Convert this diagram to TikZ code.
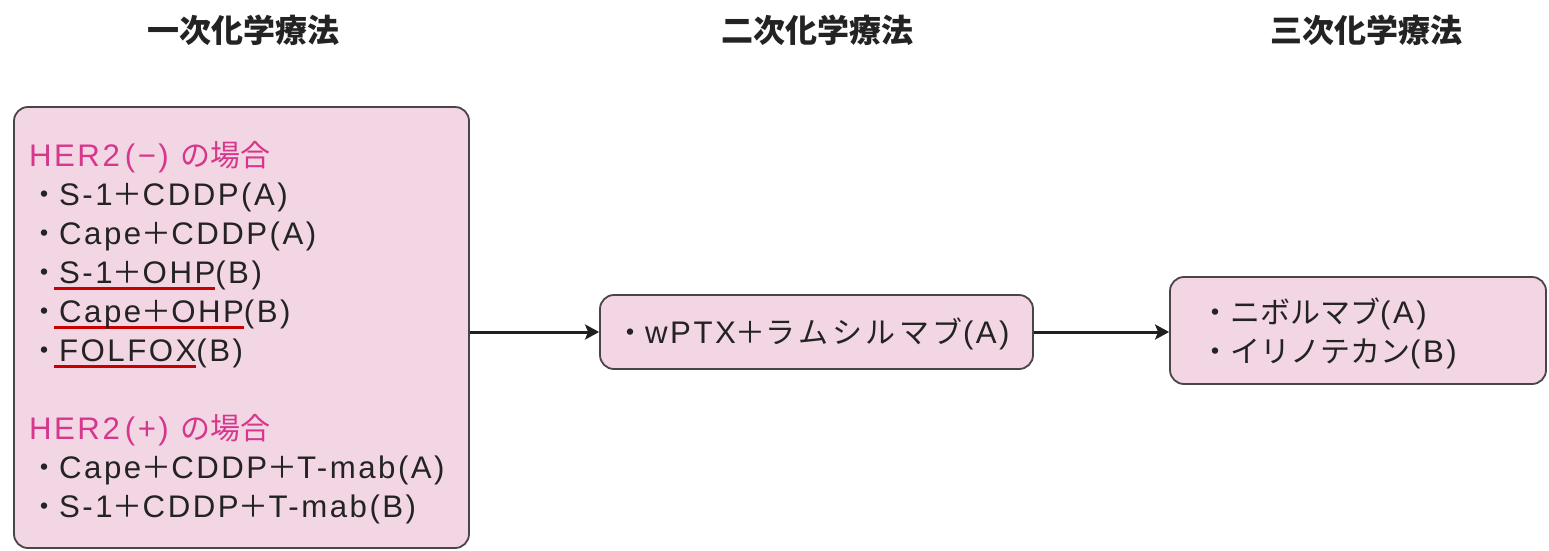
\documentclass[tikz,border=0pt]{standalone}
\usepackage{fontspec}
\setmainfont{Noto Sans CJK JP}
\newfontfamily\latfont[LetterSpace=8,Scale=1.04]{Liberation Sans}
\usetikzlibrary{arrows.meta}
\definecolor{boxpink}{RGB}{242,214,228}
\definecolor{boxline}{RGB}{75,68,72}
\definecolor{hermag}{RGB}{214,55,140}
\definecolor{ulred}{RGB}{200,0,0}
\definecolor{txt}{RGB}{35,35,35}
\newcommand\lt[1]{{\latfont #1}}
\newcommand\widekana[1]{{\addfontfeature{LetterSpace=12}#1}}
\newcommand\redul[1]{\setbox0\hbox{#1}\rlap{\kern-5pt\textcolor{ulred}{\rule[-7pt]{\dimexpr\wd0+5pt\relax}{3.5pt}}}\box0}
\begin{document}
\begin{tikzpicture}[x=1pt,y=-1pt,
  box/.style={draw=boxline,line width=1.8pt,fill=boxpink,rounded corners=14pt,inner sep=0pt},
  title/.style={font=\fontsize{32}{36}\selectfont\bfseries,text=txt,inner sep=0pt},
  item/.style={font=\fontsize{30}{39}\selectfont,text=txt,anchor=base west,inner sep=0pt},
  head/.style={item,text=hermag},
  arr/.style={line width=3pt,draw=black!88,-{Stealth[length=14pt,width=15pt,inset=3pt]}}]
\useasboundingbox (0,0) rectangle (1549,550);
\node[title] (t1) at (243,30) {一次化学療法};
\node[title] (t2) at (817,30) {二次化学療法};
\node[title] (t3) at (1366,30) {三次化学療法};
\node[box,minimum width=455pt,minimum height=441pt] (b1) at (241.5,327.5) {};
\node[box,minimum width=433pt,minimum height=74pt] (b2) at (816.5,332) {};
\node[box,minimum width=376pt,minimum height=107pt] (b3) at (1358,330.5) {};
\node[head] (h1) at (29,166) {\lt{HER2}\hspace{5pt}\lt{(−)}\hspace{12pt}の場合};
\node[item] (l1) at (29,205) {・\lt{S-1}＋\lt{CDDP(A)}};
\node[item] (l2) at (29,244) {・\lt{Cape}＋\lt{CDDP(A)}};
\node[item] (l3) at (29,283) {・\redul{\lt{S-1}＋\lt{OHP}}\lt{(B)}};
\node[item] (l4) at (29,322) {・\redul{\lt{Cape}＋\lt{OHP}}\lt{(B)}};
\node[item] (l5) at (29,361) {・\redul{\lt{FOLFOX}}\lt{(B)}};
\node[head] (h2) at (29,439) {\lt{HER2}\hspace{5pt}\lt{(+)}\hspace{12pt}の場合};
\node[item] (l6) at (29,478) {・\lt{Cape}＋\lt{CDDP}＋\lt{T-mab(A)}};
\node[item] (l7) at (29,517) {・\lt{S-1}＋\lt{CDDP}＋\lt{T-mab(B)}};
\node[item] (m1) at (615,343) {・\lt{wPTX}＋\widekana{ラムシルマブ}\lt{(A)}};
\node[item] (r1) at (1200,323) {・ニボルマブ\lt{(A)}};
\node[item] (r2) at (1200,362) {・イリノテカン\lt{(B)}};
\draw[arr] (b1.east |- b2.west) -- (b2.west);
\draw[arr] (b2.east) -- (b2.east -| b3.west);
\end{tikzpicture}
\end{document}
